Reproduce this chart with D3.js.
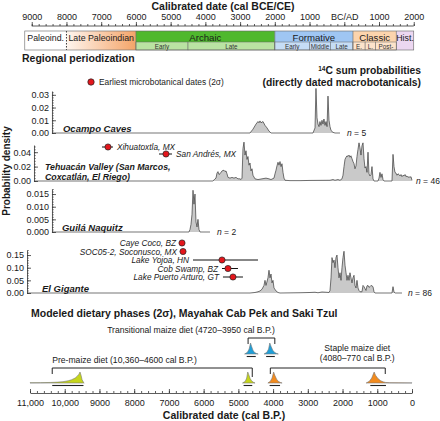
<!DOCTYPE html>
<html><head><meta charset="utf-8">
<script src="https://cdn.jsdelivr.net/npm/d3@7"></script>
<style>body{margin:0;background:#fff}svg{display:block}</style>
</head><body><svg id="chart" width="440" height="421"></svg>
<script>
// ---------------- DATA ----------------
// Periodization (calendar years, negative = BCE)
const periodNames = ["Paleoind.","Late Paleoindian","Archaic","Formative","Classic","Hist."];
const periodStart = [-9200,-8000,-6000,-2000,250,1500];
const periodEnd   = [-8000,-6000,-2000,250,1500,2000];
const subNames  = ["Early","Late","Early","Middle","Late","E.","L.","Post-"];
const subParent = ["Archaic","Archaic","Formative","Formative","Formative","Classic","Classic","Classic"];
const subStart  = [-6000,-4500,-2000,-1000,-400,250,600,900];
const subEnd    = [-4500,-2000,-1000,-400,250,600,900,1500];

// Axes ticks
const topTickYears  = [-9000,-8000,-7000,-6000,-5000,-4000,-3000,-2000,-1000,0,1000,2000];
const topTickLabels = ["9000","8000","7000","6000","5000","4000","3000","2000","1000","BC/AD","1000","2000"];
const bottomTicks = [11000,10000,9000,8000,7000,6000,5000,4000,3000,2000,1000,0];
const ocampoTicks = [0,0.01,0.02,0.03];
const tehuacanTicks = [0,0.02,0.04];
const guilaTicks = [0,0.005,0.010,0.015];
const gigenteTicks = [0,0.05,0.10,0.15];

// 14C summed probabilities [cal BP, density]
const ocampo = [[10367,0],[4665,0],[4579,0.003],[4492,0.007],[4435,0.009],[4406,0.008],[4377,0.0095],[4348,0.008],[4291,0.009],[4233,0.006],[4175,0.004],[4118,0.0015],[4060,0],[2851,0],[2793,0.004],[2765,0.035],[2736,0.012],[2707,0.007],[2678,0.005],[2650,0.009],[2621,0.006],[2592,0.010],[2563,0.007],[2535,0.011],[2505,0.006],[2476,0.009],[2447,0.005],[2419,0.029],[2390,0.010],[2361,0.005],[2332,0.002],[2275,0.0005],[2217,0],[2073,0]];
const tehuacan = [[10885,0],[5731,0],[5673,0.003],[5644,0.004],[5615,0.011],[5587,0.013],[5558,0.009],[5529,0.010],[5471,0.014],[5414,0.015],[5385,0.013],[5356,0.014],[5327,0.010],[5299,0.005],[5241,0.004],[5183,0.005],[5126,0.004],[5068,0.005],[5011,0.003],[4953,0.003],[4924,0.002],[4895,0.004],[4867,0.045],[4838,0.054],[4809,0.036],[4780,0.042],[4751,0.030],[4723,0.034],[4694,0.022],[4665,0.025],[4636,0.014],[4607,0.017],[4579,0.008],[4521,0.003],[4435,0.002],[4319,0.003],[4204,0.004],[4118,0.003],[4060,0.002],[3974,0.004],[3945,0.010],[3916,0.015],[3888,0.021],[3859,0.026],[3830,0.022],[3801,0.027],[3772,0.020],[3744,0.024],[3715,0.012],[3686,0.004],[3657,0.001],[3513,0.0005],[3225,0.0005],[2937,0.0008],[2361,0.001],[2275,0.002],[2217,0.001],[2131,0.002],[2073,0.001],[2016,0.003],[1987,0.008],[1958,0.020],[1929,0.030],[1900,0.033],[1872,0.035],[1843,0.034],[1814,0.036],[1786,0.033],[1757,0.035],[1728,0.031],[1699,0.027],[1670,0.024],[1642,0.017],[1613,0.021],[1584,0.034],[1555,0.044],[1526,0.053],[1498,0.046],[1469,0.036],[1440,0.049],[1411,0.053],[1382,0.031],[1354,0.018],[1325,0.020],[1296,0.012],[1267,0.040],[1238,0.010],[1210,0.007],[1181,0.009],[1152,0.020],[1123,0.003],[1094,0],[979,0],[950,0.004],[922,0.012],[893,0.005],[864,0.010],[835,0.002],[806,0],[576,0],[547,0.037],[518,0.020],[490,0.012],[461,0.011],[432,0.008],[403,0.010],[374,0.009],[346,0.007],[317,0.009],[288,0.006],[259,0.008],[230,0.007],[201,0.009],[173,0.006],[144,0.007],[115,0.005],[86,0.006],[58,0.005],[29,0.006],[0,0.001]];
const guila = [[10367,0],[6422,0],[6393,0.001],[6364,0.003],[6335,0.007],[6306,0.0165],[6278,0.011],[6249,0.015],[6220,0.004],[6191,0.002],[6163,0.005],[6134,0.001],[6105,0],[5817,0]];
const gigante = [[11086,0],[4665,0],[4521,0.002],[4435,0.005],[4377,0.008],[4319,0.015],[4262,0.030],[4233,0.050],[4204,0.030],[4147,0.060],[4118,0.090],[4089,0.060],[4060,0.075],[4032,0.040],[4003,0.050],[3974,0.020],[3916,0.008],[3859,0.002],[3801,0],[3225,0.001],[2937,0.002],[2793,0.003],[2707,0.001],[2592,0.004],[2476,0.003],[2390,0.002],[2361,0.010],[2332,0.060],[2304,0.140],[2275,0.120],[2246,0.130],[2217,0.100],[2189,0.140],[2160,0.150],[2131,0.100],[2102,0.060],[2073,0.080],[2044,0.050],[2016,0.100],[1987,0.140],[1958,0.165],[1929,0.110],[1900,0.080],[1872,0.050],[1843,0.070],[1814,0.050],[1786,0.080],[1757,0.060],[1728,0.040],[1699,0.060],[1670,0.070],[1642,0.030],[1613,0.020],[1584,0.050],[1555,0.020],[1526,0.010],[1498,0.005],[1440,0.005],[1411,0.030],[1382,0.025],[1325,0.010],[1296,0.028],[1267,0.030],[1238,0.022],[1210,0.025],[1181,0.030],[1152,0.028],[1123,0.025],[1094,0.005],[1066,0],[576,0],[547,0.025],[518,0.004],[490,0],[288,0]];

const panelNames = [["Ocampo Caves"],["Tehuacán Valley (San Marcos,","Coxcatlán, El Riego)"],["Guilá Naquitz"],["El Gigante"]];
const panelN = [5,46,2,86];

// Earliest microbotanical dates (cal BP, 2 sigma)
const microNames = ["Xihuatoxtla, MX","San Andrés, MX","Caye Coco, BZ","SOC05-2, Soconusco, MX","Lake Yojoa, HN","Cob Swamp, BZ","Lake Puerto Arturo, GT"];
const microMid   = [8754,7084,6623,6594,5471,5299,5155];
const microOld   = [8927,7285,6680,6650,6306,5471,5443];
const microYoung = [8610,6911,6565,6540,4435,5011,4867];

// Modeled dietary phases (cal BP)
const dietNames = ["Pre-maize diet","Transitional maize diet","Staple maize diet"];
const dietFrom = [10360,4720,4080];
const dietTo   = [4600,3950,770];
// Boundary distributions [cal BP, relative density]
const boundaryDiet = [0,0,1,1,2,2];
const boundaryDens = [
  [[11000,0.02],[10700,0.03],[10400,0.05],[10200,0.08],[10050,0.12],[9900,0.2],[9800,0.3],[9700,0.45],[9640,0.62],[9590,0.8],[9560,1],[9530,0.7],[9500,0.3],[9460,0.06],[9440,0]],
  [[4880,0],[4800,0.15],[4760,0.45],[4730,1],[4700,0.75],[4660,0.4],[4620,0.2],[4570,0.07],[4520,0]],
  [[4820,0],[4740,0.15],[4690,0.45],[4650,1],[4620,0.7],[4580,0.35],[4540,0.15],[4480,0.05],[4430,0]],
  [[4260,0],[4180,0.15],[4130,0.45],[4095,1],[4060,0.7],[4010,0.35],[3960,0.15],[3900,0.05],[3850,0]],
  [[4150,0],[4080,0.15],[4030,0.45],[3985,1],[3950,0.7],[3900,0.35],[3850,0.15],[3790,0.05],[3740,0]],
  [[1320,0],[1230,0.15],[1160,0.45],[1090,1],[1050,0.7],[980,0.4],[900,0.2],[820,0.1],[760,0.05],[650,0.025],[400,0.015],[0,0.01]]
];
const boundaryOld   = [10360,4850,4760,4200,4100,1200];
const boundaryYoung = [9460,4600,4500,3950,3800,750];

// ---------------- DRAWING ----------------
const FONT = '"Liberation Sans", Arial, Helvetica, sans-serif';
const svg = d3.select("#chart").attr("font-family", FONT);
const x = d3.scaleLinear().domain([11000,0]).range([30,412]);
const xCal = d3.scaleLinear().domain([1950-11000,1950]).range([30,412]);
const ink = "#1a1a1a";

function styleAxis(g, fs){
  g.attr("font-family",FONT);
  g.selectAll("line,path").attr("stroke","#333").attr("stroke-width",0.8);
  g.selectAll("text").attr("font-size",fs).attr("fill",ink).attr("font-family",FONT);
}
function txt(xp,yp,s,opt={}){
  const t = svg.append("text").attr("x",xp).attr("y",yp).text(s).attr("fill",ink)
    .attr("font-size",opt.fs||9).attr("text-anchor",opt.anchor||"start");
  if(opt.bold) t.attr("font-weight","bold");
  if(opt.italic) t.attr("font-style","italic");
  return t;
}

// Top title and axis
txt(223,10,"Calibrated date (cal BCE/CE)",{fs:10.5,bold:true,anchor:"middle"});
const gTopMinor = svg.append("g").attr("transform","translate(0,26)")
  .call(d3.axisTop(xCal).tickValues(d3.range(-9000,2001,200)).tickSize(2).tickFormat(""));
gTopMinor.select(".domain").remove();
styleAxis(gTopMinor,9);
const gTop = svg.append("g").attr("transform","translate(0,26)")
  .call(d3.axisTop(xCal).tickValues(topTickYears).tickSize(4).tickPadding(2.5).tickFormat((d,i)=>topTickLabels[i]));
gTop.select(".domain").remove();
styleAxis(gTop,9);
svg.append("line").attr("x1",xCal(-9000)).attr("x2",xCal(2000)).attr("y1",26).attr("y2",26).attr("stroke","#333").attr("stroke-width",0.8);

// Period bar
const barTop=31, barMid=42, barBot=50;
const defs = svg.append("defs");
const grad = defs.append("linearGradient").attr("id","lpGrad").attr("x1","0%").attr("x2","100%");
grad.append("stop").attr("offset","0%").attr("stop-color","#fef5ee");
grad.append("stop").attr("offset","100%").attr("stop-color","#f4a468");
const periodFill = {"Paleoind.":"#ffffff","Late Paleoindian":"url(#lpGrad)","Archaic":"#4fb82d","Formative":"#9fc6f3","Classic":"#fcd4ad","Hist.":"#ecd7f1"};
const subFill = {"Archaic":"#bae3a3","Formative":"#c6ddf6","Classic":"#fde3ca"};
periodNames.forEach((n,i)=>{
  svg.append("rect").attr("x",xCal(periodStart[i])).attr("y",barTop)
    .attr("width",xCal(periodEnd[i])-xCal(periodStart[i])).attr("height",barBot-barTop)
    .attr("fill",periodFill[n]);
});
subNames.forEach((n,i)=>{
  svg.append("rect").attr("x",xCal(subStart[i])).attr("y",barMid)
    .attr("width",xCal(subEnd[i])-xCal(subStart[i])).attr("height",barBot-barMid)
    .attr("fill",subFill[subParent[i]]).attr("stroke","#666").attr("stroke-width",0.5);
  txt((xCal(subStart[i])+xCal(subEnd[i]))/2,48.7,n,{fs:6.3,anchor:"middle"}).attr("fill","#333");
});
periodNames.forEach((n,i)=>{
  if(i>0){
    svg.append("line").attr("x1",xCal(periodStart[i])).attr("x2",xCal(periodStart[i]))
      .attr("y1",barTop).attr("y2",barBot).attr("stroke", i===1?"#222":"#666")
      .attr("stroke-width",i===1?0.9:0.6).attr("stroke-dasharray",i===1?"1.5,1.5":null);
  }
  const withSubs = subParent.includes(n);
  txt((xCal(periodStart[i])+xCal(periodEnd[i]))/2,40.5,n,{fs:withSubs?9.6:8.8,anchor:"middle"});
});
svg.append("rect").attr("x",xCal(periodStart[0])).attr("y",barTop)
  .attr("width",xCal(2000)-xCal(periodStart[0])).attr("height",barBot-barTop)
  .attr("fill","none").attr("stroke","#666").attr("stroke-width",0.6);

// Section headings
txt(22,62,"Regional periodization",{fs:10.5,bold:true});
const h1 = txt(421,74,"",{fs:10.3,bold:true,anchor:"end"});
h1.append("tspan").attr("font-size",6.5).attr("dy",-3.5).text("14");
h1.append("tspan").attr("dy",3.5).text("C sum probabilities");
txt(421,85.5,"(directly dated macrobotanicals)",{fs:10.3,bold:true,anchor:"end"});
// legend
svg.append("circle").attr("cx",91).attr("cy",82).attr("r",3.2).attr("fill","#e3161c").attr("stroke","#222").attr("stroke-width",0.7);
txt(99,85,"Earliest microbotanical dates (2σ)",{fs:8.4});

// Y label
svg.append("text").attr("transform","translate(10,171) rotate(-90)").attr("text-anchor","middle")
  .attr("font-size",10).attr("font-weight","bold").attr("fill",ink).text("Probability density");

// Panels
const panelData = [ocampo,tehuacan,guila,gigante];
const panelTicks = [ocampoTicks,tehuacanTicks,guilaTicks,gigenteTicks];
const panelLayout = [
  {base:133, top:91,  max:0.033, minor:0.002, fmt:".2f", lab:11, nGap:7},
  {base:181, top:145, max:0.05,  minor:0.004, fmt:".2f", lab:11, nGap:4},
  {base:232, top:189, max:0.017, minor:0.001, fmt:".3f", lab:10, nGap:7},
  {base:293, top:250, max:0.17,  minor:0.01,  fmt:".2f", lab:15, nGap:6}
];
panelData.forEach((data,i)=>{
  const L = panelLayout[i];
  const y = d3.scaleLinear().domain([0,L.max]).range([L.base,L.top]);
  const ax = x(data[0][0]);
  const area = d3.area().x(d=>x(d[0])).y0(y(0)).y1(d=>y(d[1]));
  const line = d3.line().x(d=>x(d[0])).y(d=>y(d[1]));
  svg.append("path").datum(data).attr("d",area).attr("fill","#c9c9c9");
  svg.append("path").datum(data).attr("d",line).attr("fill","none").attr("stroke","#3a3a3a").attr("stroke-width",0.7).attr("stroke-linejoin","round");
  const gm = svg.append("g").attr("transform",`translate(${ax},0)`)
    .call(d3.axisLeft(y).tickValues(d3.range(0,L.max+1e-9,L.minor)).tickSize(-2).tickFormat(""));
  gm.select(".domain").remove();
  styleAxis(gm,9); gm.selectAll("line").attr("stroke-width",0.5);
  const ga = svg.append("g").attr("transform",`translate(${ax},0)`)
    .call(d3.axisLeft(y).tickValues(panelTicks[i]).tickSizeInner(-4).tickSizeOuter(0).tickPadding(3).tickFormat(d3.format(L.fmt)));
  styleAxis(ga,9);
  // panel name
  const names = panelNames[i];
  names.forEach((s,k)=>{
    txt(ax+L.lab, L.base-1.5-(names.length-1-k)*9.8, s,{fs:names.length>1?8.8:9.5,bold:true,italic:true});
  });
  // n label
  const last = data[data.length-1];
  const nt = txt(x(last[0])+L.nGap, L.base+2.5, "",{fs:8.5});
  nt.append("tspan").attr("font-style","italic").text("n");
  nt.append("tspan").text(" = "+panelN[i]);
});

// Microbotanical dates
const microGroupA = microNames.slice(0,2);
const microGroupB = microNames.slice(2);
const yA = d3.scalePoint().domain(microGroupA).range([147,154]);
const yB = d3.scalePoint().domain(microGroupB).range([243,277]);
microNames.forEach((n,i)=>{
  const inA = i<2;
  const yy = inA ? yA(n) : yB(n);
  svg.append("line").attr("x1",x(microOld[i])).attr("x2",x(microYoung[i])).attr("y1",yy).attr("y2",yy)
    .attr("stroke","#111").attr("stroke-width",1);
  svg.append("circle").attr("cx",x(microMid[i])).attr("cy",yy).attr("r",3.1)
    .attr("fill","#e3161c").attr("stroke","#222").attr("stroke-width",0.7);
  if(inA) txt(x(microYoung[i])+4, yy+3, n, {fs:8.3,italic:true});
  else txt(x(microOld[i])-4, yy+3, n, {fs:8.3,italic:true,anchor:"end"});
});

// Modeled dietary phases
txt(31,317,"Modeled dietary phases (2σ), Mayahak Cab Pek and Saki Tzul",{fs:10.5,bold:true});
const dietColor = ["#c6d61b","#1f9fd8","#f28b1e"];
const rowBase = [383,354,383];
const bracketY = [368,338,368];
const fmtBP = n => n>=10000 ? d3.format(",")(n) : String(n);
const hScale = d3.scaleLinear().domain([0,1]).range([0,11]);
boundaryDens.forEach((dens,i)=>{
  const d = boundaryDiet[i], b = rowBase[d];
  const area = d3.area().x(p=>x(p[0])).y0(b).y1(p=>b-hScale(p[1]));
  svg.append("path").datum(dens).attr("d",area).attr("fill",dietColor[d])
    .attr("stroke","#777").attr("stroke-width",0.6).attr("stroke-linejoin","round");
  svg.append("line").attr("x1",x(boundaryOld[i])).attr("x2",x(boundaryYoung[i]))
    .attr("y1",b+2.5).attr("y2",b+2.5).attr("stroke","#222").attr("stroke-width",1.1);
});
dietNames.forEach((n,i)=>{
  const by = bracketY[i];
  const x1 = x(dietFrom[i]), x2 = x(dietTo[i]);
  svg.append("path").attr("d",`M${x1},${by+6}V${by}H${x2}V${by+ (i===0?9:6)}`)
    .attr("fill","none").attr("stroke","#222").attr("stroke-width",1);
  const label = `${n} (${fmtBP(dietFrom[i])}–${fmtBP(dietTo[i])} cal B.P.)`;
  if(i===0) txt(x1, by-5, label, {fs:8.6});
  else if(i===1) txt(x2, by-5, label, {fs:8.6, anchor:"end"});
  else {
    txt(x2-28, by-17, n, {fs:8.6, anchor:"middle"});
    txt(x2-28, by-7, `(${fmtBP(dietFrom[i])}–${fmtBP(dietTo[i])} cal B.P.)`, {fs:8.6, anchor:"middle"});
  }
});

// Bottom axis
const gBm = svg.append("g").attr("transform","translate(0,393)")
  .call(d3.axisBottom(x).tickValues(d3.range(0,11001,200)).tickSize(-2).tickFormat(""));
gBm.select(".domain").remove();
styleAxis(gBm,9);
const gB = svg.append("g").attr("transform","translate(0,393)")
  .call(d3.axisBottom(x).tickValues(bottomTicks).tickSizeInner(-4).tickSizeOuter(0).tickPadding(6.5).tickFormat(fmtBP));
styleAxis(gB,9);
txt(224,419,"Calibrated date (cal B.P.)",{fs:10.5,bold:true,anchor:"middle"});
</script></body></html>
